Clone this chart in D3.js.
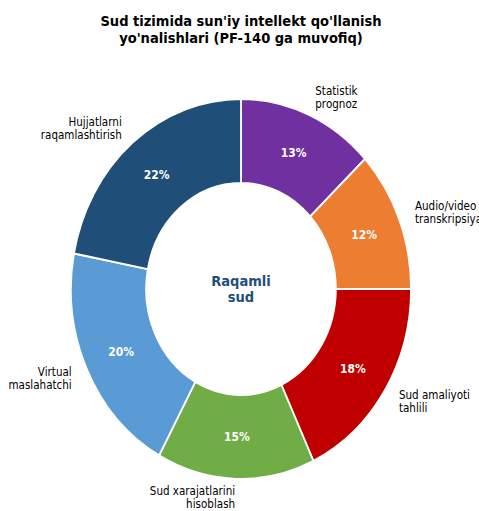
<!DOCTYPE html>
<html>
<head>
<meta charset="utf-8">
<script src="https://cdn.jsdelivr.net/npm/d3@7"></script>
<style>
  body { margin: 0; background: #fff; }
  text { font-family: "DejaVu Sans", sans-serif; }
</style>
</head>
<body>
<script>
// slices in clockwise order from the top
var categories = [
    "Statistik\nprognoz",
    "Audio/video\ntranskripsiya",
    "Sud amaliyoti\ntahlili",
    "Sud xarajatlarini\nhisoblash",
    "Virtual\nmaslahatchi",
    "Hujjatlarni\nraqamlashtirish"
];
var values = [13, 12, 18, 15, 20, 22];
var colors = ["#7030a0", "#ed7d31", "#c00000", "#70ad47", "#5b9bd5", "#1f4e79"];
var titleLines = ["Sud tizimida sun'iy intellekt qo'llanish", "yo'nalishlari (PF-140 ga muvofiq)"];
var centerLines = ["Raqamli", "sud"];

var width = 479;
var height = 511;
var sx = 0.895; // the picture is a bit narrow horizontally

var outer = 190;
var inner = 106;
var cx = 241 / sx;
var cy = 289;

var data = values.map(function (v, i) {
    return { label: categories[i], value: v, color: colors[i] };
});

var svg = d3.select("body").append("svg")
    .attr("width", width)
    .attr("height", height);

var g = svg.append("g")
    .attr("transform", "scale(" + sx + ",1)");

g.selectAll(".title")
    .data(titleLines)
    .enter()
    .append("text")
    .attr("class", "title")
    .attr("x", cx)
    .attr("y", function (d, i) { return 26 + i * 17; })
    .attr("text-anchor", "middle")
    .attr("font-size", "14.6px")
    .attr("font-weight", "bold")
    .text(function (d) { return d; });

var pie = d3.pie()
    .sort(null)
    .value(function (d) { return d.value; });

var arc = d3.arc()
    .innerRadius(inner)
    .outerRadius(outer);

var chart = g.append("g")
    .attr("transform", "translate(" + cx + "," + cy + ")");

var arcs = pie(data);

chart.selectAll(".slice")
    .data(arcs)
    .enter()
    .append("path")
    .attr("class", "slice")
    .attr("d", arc)
    .attr("fill", function (d) { return d.data.color; })
    .attr("stroke", "#fff")
    .attr("stroke-width", 2);

chart.selectAll(".pct")
    .data(arcs)
    .enter()
    .append("text")
    .attr("class", "pct")
    .attr("transform", function (d) { return "translate(" + arc.centroid(d) + ")"; })
    .attr("text-anchor", "middle")
    .attr("dy", "0.35em")
    .attr("fill", "#fff")
    .attr("font-size", "12px")
    .attr("font-weight", "bold")
    .text(function (d) { return d.data.value + "%"; });

var labelR = outer * 1.1;
var lineH = 13;

var labels = chart.selectAll(".label")
    .data(arcs)
    .enter()
    .append("text")
    .attr("class", "label")
    .attr("font-size", "11.6px")
    .attr("fill", "#000")
    .attr("text-anchor", function (d) {
        var a = (d.startAngle + d.endAngle) / 2;
        return Math.sin(a) >= 0 ? "start" : "end";
    });

labels.each(function (d) {
    var a = (d.startAngle + d.endAngle) / 2;
    var x = labelR * Math.sin(a);
    var y = -labelR * Math.cos(a);
    var lines = d.data.label.split("\n");
    var y0 = y - (lines.length - 1) * lineH / 2;
    d3.select(this).selectAll("tspan")
        .data(lines)
        .enter()
        .append("tspan")
        .attr("x", x)
        .attr("y", function (l, i) { return y0 + i * lineH; })
        .attr("dy", "0.35em")
        .text(function (l) { return l; });
});

chart.selectAll(".center")
    .data(centerLines)
    .enter()
    .append("text")
    .attr("class", "center")
    .attr("x", 0)
    .attr("y", function (d, i) { return -8 + i * 16; })
    .attr("dy", "0.35em")
    .attr("text-anchor", "middle")
    .attr("font-size", "14.6px")
    .attr("font-weight", "bold")
    .attr("fill", "#1f4e79")
    .text(function (d) { return d; });
</script>
</body>
</html>
